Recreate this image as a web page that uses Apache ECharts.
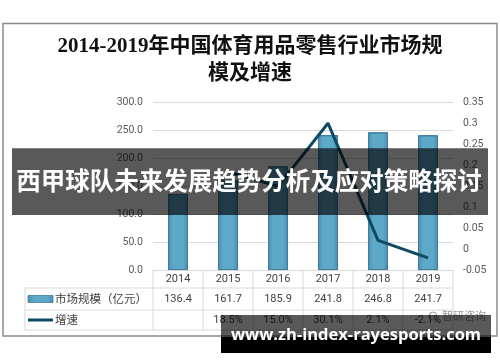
<!DOCTYPE html>
<html>
<head>
<meta charset="utf-8">
<script src="https://cdn.jsdelivr.net/npm/echarts@6/dist/echarts.min.js"></script>
<style>
html,body{margin:0;padding:0;background:#fff;}
#main{width:500px;height:362px;}
</style>
</head>
<body>
<div id="main"></div>
<script>
// ---- data ----
const titleLines = ['2014-2019年中国体育用品零售行业市场规', '模及增速'];
const years = ['2014', '2015', '2016', '2017', '2018', '2019'];
const marketSize = [136.4, 161.7, 185.9, 241.8, 246.8, 241.7];
const growthRate = [null, 0.185, 0.150, 0.301, 0.021, -0.021];
const seriesNames = ['市场规模（亿元）', '增速'];
const bannerText = '西甲球队未来发展趋势分析及应对策略探讨';
const watermarkText = 'www.zh-index-rayesports.com';
const logoText = '智研咨询';

const chart = echarts.init(document.getElementById('main'), null, {renderer: 'canvas'});
const numFont = 'Roboto, "Liberation Sans", sans-serif';
const cjkFont = '"Noto Sans CJK SC", sans-serif';
const textColor = '#404040';
const gridColor = '#d9d9d9';

const barColor = new echarts.graphic.LinearGradient(0, 0, 1, 0, [
  {offset: 0, color: '#4b8cab'},
  {offset: 0.25, color: '#5ea8c9'},
  {offset: 0.75, color: '#5ea8c9'},
  {offset: 1, color: '#4b8cab'}
]);
const lineColor = '#0d4b62';

const option = {
  animation: false,
  backgroundColor: '#ffffff',
  grid: {left: 153, right: 47, top: 102.7, bottom: 92, containLabel: false},
  xAxis: {
    type: 'category',
    data: years,
    axisLine: {lineStyle: {color: gridColor, width: 1}},
    axisTick: {show: false},
    axisLabel: {color: textColor, fontFamily: numFont, fontSize: 11, margin: 4}
  },
  yAxis: [
    {
      type: 'value', min: 0, max: 300, interval: 50,
      axisLine: {show: false}, axisTick: {show: false},
      axisLabel: {color: '#595959', fontFamily: numFont, fontSize: 10.5, margin: 10,
        formatter: v => v.toFixed(1)},
      splitLine: {lineStyle: {color: gridColor, width: 1}}
    },
    {
      type: 'value', min: -0.05, max: 0.35, interval: 0.05,
      axisLine: {show: false}, axisTick: {show: false},
      axisLabel: {color: '#595959', fontFamily: numFont, fontSize: 10.5, margin: 10,
        formatter: v => String(+v.toFixed(2))},
      splitLine: {show: false}
    }
  ],
  series: [
    {
      name: seriesNames[0], type: 'bar', data: marketSize, barWidth: '40%',
      itemStyle: {color: barColor, borderColor: '#3f7d9a', borderWidth: 1},
      z: 2
    },
    {
      name: seriesNames[1], type: 'line', yAxisIndex: 1, data: growthRate,
      showSymbol: false, symbol: 'none', connectNulls: false,
      lineStyle: {color: lineColor, width: 3}, z: 3
    }
  ]
};
chart.setOption(option);

// ---- build overlay/table graphics from the data using the chart's own scales ----
const xs = years.map(y => chart.convertToPixel({xAxisIndex: 0}, y));
const band = xs.length > 1 ? xs[1] - xs[0] : 50;
const tableLeft = 25;
const colStart = xs[0] - band / 2;
const colEnd = xs[xs.length - 1] + band / 2;
const yAxisZero = chart.convertToPixel({yAxisIndex: 0}, 0);
const rowTops = [yAxisZero, 288, 310, 330];
const g = [];

// outer border
g.push({type: 'rect', shape: {x: 3, y: 23.5, width: 494, height: 312.5},
  style: {fill: 'none', stroke: '#8c8c8c', lineWidth: 1.5}, z: 1});

// title
titleLines.forEach((t, i) => g.push({type: 'text', x: 250, y: 47 + i * 27,
  style: {text: t, fill: '#111', font: 'bold 21px "Liberation Serif", ' + cjkFont, textAlign: 'center', textVerticalAlign: 'middle'}, z: 5}));

// table horizontal lines
for (let i = 1; i < rowTops.length; i++) {
  g.push({type: 'line', shape: {x1: tableLeft, y1: rowTops[i], x2: colEnd, y2: rowTops[i]},
    style: {stroke: gridColor, lineWidth: 1}, z: 1});
}
// table vertical lines
g.push({type: 'line', shape: {x1: tableLeft, y1: rowTops[1], x2: tableLeft, y2: rowTops[3]},
  style: {stroke: gridColor, lineWidth: 1}, z: 1});
for (let i = 0; i <= years.length; i++) {
  const x = colStart + i * band;
  g.push({type: 'line', shape: {x1: x, y1: rowTops[0], x2: x, y2: rowTops[3]},
    style: {stroke: gridColor, lineWidth: 1}, z: 1});
}
// legend cells
const r1 = (rowTops[1] + rowTops[2]) / 2, r2 = (rowTops[2] + rowTops[3]) / 2;
g.push({type: 'rect', shape: {x: 28, y: r1 - 3.5, width: 25, height: 7},
  style: {fill: barColor, stroke: '#3f7d9a', lineWidth: 0.8}, z: 5});
g.push({type: 'line', shape: {x1: 28, y1: r2, x2: 53, y2: r2},
  style: {stroke: lineColor, lineWidth: 3}, z: 5});
g.push({type: 'text', x: 55, y: r1, style: {text: seriesNames[0], fill: textColor,
  font: '11.5px ' + cjkFont, textVerticalAlign: 'middle'}, z: 5});
g.push({type: 'text', x: 55, y: r2, style: {text: seriesNames[1], fill: textColor,
  font: '11.5px ' + cjkFont, textVerticalAlign: 'middle'}, z: 5});
// values
years.forEach((y, i) => {
  g.push({type: 'text', x: xs[i], y: r1, style: {text: marketSize[i].toFixed(1), fill: textColor,
    font: '11px ' + numFont, textAlign: 'center', textVerticalAlign: 'middle'}, z: 5});
  if (growthRate[i] !== null) {
    g.push({type: 'text', x: xs[i], y: r2, style: {text: (growthRate[i] * 100).toFixed(1) + '%', fill: textColor,
      font: '11px ' + numFont, textAlign: 'center', textVerticalAlign: 'middle'}, z: 5});
  }
});

// logo watermark
g.push({type: 'text', x: 464, y: 316, style: {text: logoText, fill: 'rgba(120,120,120,0.75)',
  font: '11px ' + cjkFont, textAlign: 'center', textVerticalAlign: 'middle'}, z: 6});
g.push({type: 'circle', shape: {cx: 433, cy: 316, r: 4},
  style: {fill: 'none', stroke: 'rgba(120,120,120,0.7)', lineWidth: 1}, z: 6});

// banner
g.push({type: 'rect', shape: {x: 12, y: 148.3, width: 476, height: 66.7},
  style: {fill: 'rgba(0,0,0,0.65)'}, z: 100});
g.push({type: 'text', x: 249, y: 181, style: {text: bannerText, fill: '#ffffff',
  font: 'bold 24.5px ' + cjkFont, textAlign: 'center', textVerticalAlign: 'middle'}, z: 101});

// bottom watermark
g.push({type: 'rect', shape: {x: 221, y: 315, width: 270, height: 22},
  style: {fill: 'rgba(0,0,0,0.65)'}, z: 100});
g.push({type: 'rect', shape: {x: 221, y: 337, width: 270, height: 16},
  style: {fill: '#000000'}, z: 100});
g.push({type: 'text', x: 356, y: 335, style: {text: watermarkText, fill: '#ffffff',
  font: 'bold 16.5px "Open Sans", "DejaVu Sans", sans-serif', textAlign: 'center', textVerticalAlign: 'middle'}, z: 101});

chart.setOption({graphic: {elements: g}});
</script>
</body>
</html>
